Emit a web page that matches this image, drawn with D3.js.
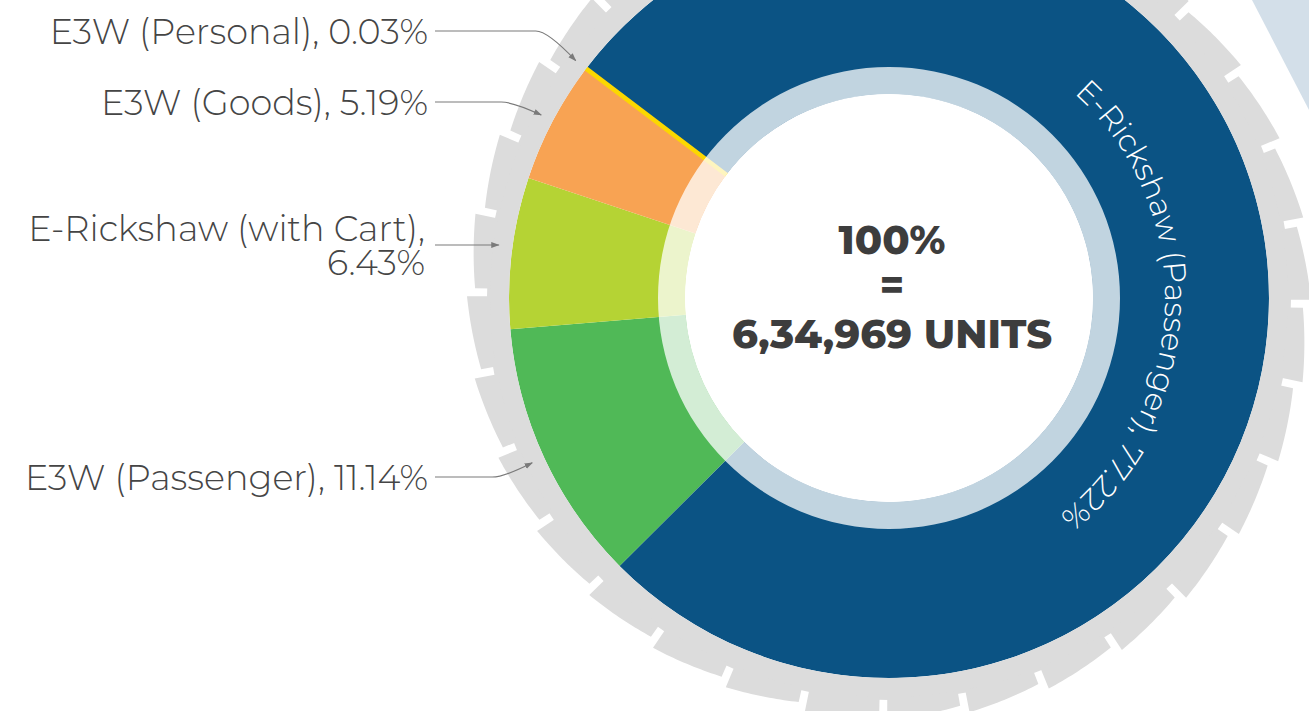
<!DOCTYPE html>
<html>
<head>
<meta charset="utf-8">
<script src="https://cdn.jsdelivr.net/npm/d3@7"></script>
<style>
  html, body { margin: 0; padding: 0; background: #fff; overflow: hidden; }
  svg { display: block; }
  .lbl { font-family: "Montserrat", "Open Sans", sans-serif; font-weight: 300; fill: #454545; font-size: 35px; }
  .centre { font-family: "Montserrat", "Lato", sans-serif; font-weight: 800; fill: #3d3d3d; font-size: 40px; }
  .arcLabel { font-family: "Montserrat", "Open Sans", sans-serif; font-weight: 300; fill: #fff; font-size: 31px; }
</style>
</head>
<body>
<svg id="chart" width="1309" height="711"></svg>
<script>
'use strict';

// data
const categories = ['E-Rickshaw (Passenger)', 'E3W (Passenger)', 'E-Rickshaw (with Cart)', 'E3W (Goods)', 'E3W (Personal)'];
const shares = [77.22, 11.14, 6.43, 5.19, 0.03];
const colours = ['#0b5384', '#50b957', '#b5d334', '#f8a353', '#fcd700'];
const totalUnits = 634969;

// layout
const cx = 889, cy = 298;
const rHole = 204, rTint = 231, rOuter = 380;
const rGearIn = 380, rGearBase = 402, rToothIn = 399, rToothLo = 414, rToothHi = 422;
const startDeg = -52.8;
const rad = (deg) => deg * Math.PI / 180;
const polar = (a, r) => [cx + r * Math.sin(a), cy - r * Math.cos(a)];

// left labels: y of the leader line for every slice except the big one
const labelY = [null, 477, 245, 102, 31];

const $svg = d3.select('#chart');
const $defs = $svg.append('defs');

$defs.append('marker')
  .attr('id', 'arrow')
  .attr('viewBox', '0 0 10 10')
  .attr('refX', 9).attr('refY', 5)
  .attr('markerWidth', 7).attr('markerHeight', 7)
  .attr('orient', 'auto')
  .append('path')
  .attr('d', 'M0,1.5 L10,5 L0,8.5 Z')
  .attr('fill', '#7a7a7a');

// decoration in top right corner
$svg.append('path')
  .attr('d', 'M1252,0 L1309,0 L1309,110 Z')
  .attr('fill', '#d3dfe9');

const $g = $svg.append('g').attr('transform', 'translate(' + cx + ',' + cy + ')');

const pie = d3.pie()
  .sort(null)
  .value((d) => d)
  .startAngle(rad(startDeg))
  .endAngle(rad(startDeg) + Math.PI * 2);
const arcs = pie(shares);

const arc = d3.arc().innerRadius(rHole).outerRadius(rOuter);

$g.append('g').selectAll('.slice')
  .data(arcs)
  .join('path')
  .attr('class', 'slice')
  .attr('d', arc)
  .attr('fill', (d, i) => colours[i])
  .attr('stroke', (d, i) => (d.endAngle - d.startAngle < 0.01 ? colours[i] : 'none'))
  .attr('stroke-width', 4)
  .attr('stroke-linejoin', 'miter');

// pale inner band
$g.append('path')
  .attr('d', d3.arc().innerRadius(rHole).outerRadius(rTint).startAngle(0).endAngle(Math.PI * 2)())
  .attr('fill', '#fff')
  .attr('fill-opacity', 0.75);

$g.append('circle').attr('r', rHole).attr('fill', '#fff');

// gear ring
const gearFill = '#dcdcdc';
$g.append('path')
  .attr('d', d3.arc().innerRadius(rGearIn).outerRadius(rGearBase).startAngle(0).endAngle(Math.PI * 2)())
  .attr('fill', gearFill);

const nTeeth = 32;
const step = Math.PI * 2 / nTeeth;
const gap = rad(1.1);
const offset = rad(0.8);
const teeth = d3.range(nTeeth).map((k) => {
  const a0 = offset + k * step + gap / 2;
  const a1 = offset + (k + 1) * step - gap / 2;
  return d3.range(0, 1.0001, 0.05).map((t) => ({ a: a0 + t * (a1 - a0), t: t }));
});
const tooth = d3.areaRadial()
  .angle((d) => d.a)
  .innerRadius(rToothIn)
  .outerRadius((d) => rToothLo + d.t * (rToothHi - rToothLo));

$g.append('g').selectAll('.tooth')
  .data(teeth)
  .join('path')
  .attr('class', 'tooth')
  .attr('d', tooth)
  .attr('fill', gearFill);

// curved label on the big slice
const textMid = rad(92);
const rText = 276;
const p0 = [rText * Math.sin(textMid - Math.PI / 2), -rText * Math.cos(textMid - Math.PI / 2)];
const p1 = [rText * Math.sin(textMid + Math.PI / 2), -rText * Math.cos(textMid + Math.PI / 2)];
$defs.append('path')
  .attr('id', 'bigArc')
  .attr('d', 'M' + p0[0] + ',' + p0[1] + ' A' + rText + ',' + rText + ' 0 0,1 ' + p1[0] + ',' + p1[1]);

$g.append('text')
  .attr('class', 'arcLabel')
  .append('textPath')
  .attr('href', '#bigArc')
  .attr('startOffset', '50%')
  .attr('text-anchor', 'middle')
  .text(categories[0] + ', ' + shares[0].toFixed(2) + '%');

// centre text
const centreLines = ['100%', '=', totalUnits.toLocaleString('en-IN') + ' UNITS'];
const centreY = [-58, -13, 36];
$g.append('g').selectAll('.centre')
  .data(centreLines)
  .join('text')
  .attr('class', 'centre')
  .attr('x', 3)
  .attr('y', (d, i) => centreY[i])
  .attr('dy', '0.36em')
  .attr('text-anchor', 'middle')
  .text((d) => d);

// left labels + leader lines
const textRight = 428;
const lineStart = 435;
const rTip = 393;

arcs.forEach((d, i) => {
  if (labelY[i] === null) return;
  const ly = labelY[i];
  const mid = (d.startAngle + d.endAngle) / 2;
  const tip = polar(mid, rTip);
  let path;
  if (Math.abs(tip[1] - ly) < 8) {
    path = 'M' + lineStart + ',' + ly + ' L' + tip[0] + ',' + ly;
  } else {
    const ex = tip[0] - 40;
    path = 'M' + lineStart + ',' + ly + ' L' + ex + ',' + ly +
      ' Q' + (ex + 12) + ',' + ly + ' ' + tip[0] + ',' + tip[1];
  }
  $svg.append('path')
    .attr('d', path)
    .attr('fill', 'none')
    .attr('stroke', '#7a7a7a')
    .attr('stroke-width', 1.2)
    .attr('marker-end', 'url(#arrow)');

  const label = categories[i] + ', ' + shares[i].toFixed(2) + '%';
  const lines = label.length > 24 ? [categories[i] + ',', shares[i].toFixed(2) + '%'] : [label];
  lines.forEach((s, j) => {
    $svg.append('text')
      .attr('class', 'lbl')
      .attr('text-anchor', 'end')
      .attr('x', lines.length > 1 ? textRight - 3 : textRight)
      .attr('y', ly + (lines.length > 1 ? (j - 0.5) * 34 : 0))
      .attr('dy', '0.36em')
      .text(s);
  });
});
</script>
</body>
</html>
